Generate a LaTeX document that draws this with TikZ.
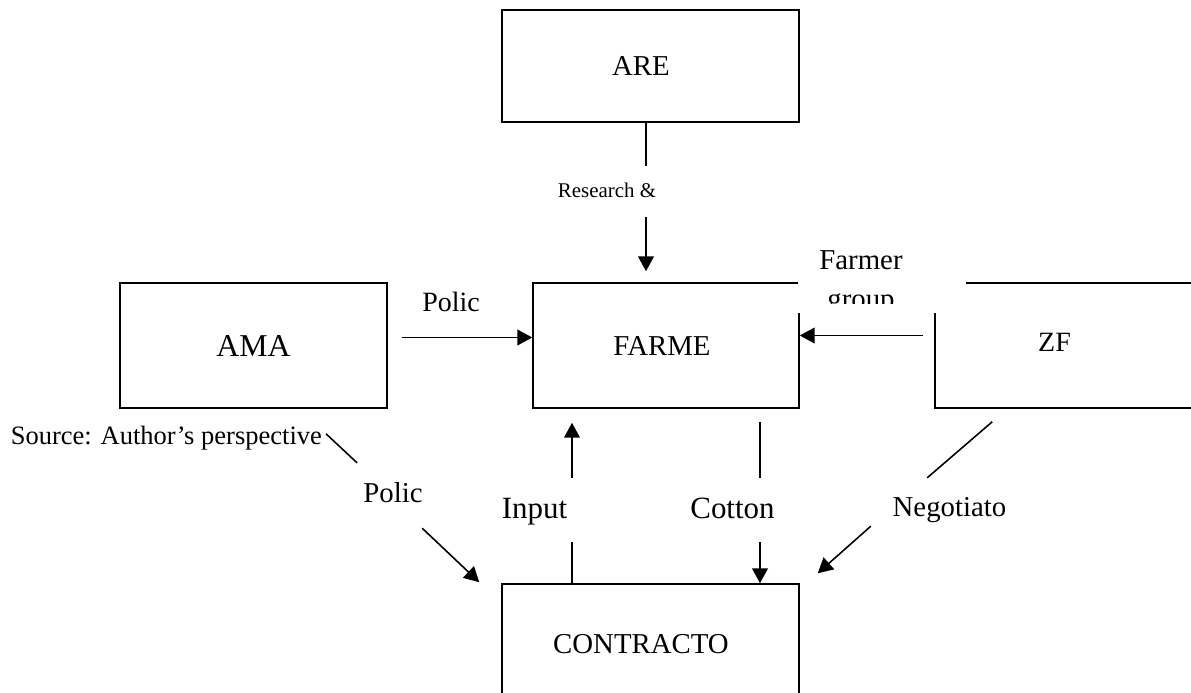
\documentclass[tikz,border=0pt]{standalone}
\usepackage{fontspec}
\setmainfont{Liberation Serif}
\usetikzlibrary{arrows.meta, positioning, calc}

\begin{document}
\begin{tikzpicture}[x=0.02cm, y=-0.02cm, line width=0.9pt,
    box/.style={draw, inner sep=0pt, font=\fontsize{16.4}{19}\selectfont},
    lbl/.style={anchor=base, inner sep=0pt, font=\fontsize{16.4}{19}\selectfont},
    arr/.style={-{Triangle[length=8.5pt, width=9pt]}},
]
    \useasboundingbox (0,0) rectangle (1191,693);
    \clip (0,0) rectangle (1191,693);

    % Actors
    \node[box, minimum width=5.94cm, minimum height=2.24cm] (are) at (650.5,66) {\hspace*{-0.38cm}ARE};
    \node[box, minimum width=5.34cm, minimum height=2.5cm,
        font=\fontsize{18.1}{21}\selectfont] (ama) at (253.5,345.5) {AMA};
    \node[box, minimum width=5.32cm, minimum height=2.5cm] (farmer) at (666,345.5) {\hspace*{-0.16cm}FARME};
    \node[box, minimum width=6.5cm, minimum height=2.5cm] (zf) at (1097.5,345.5) {};
    \node[lbl, font=\fontsize{15.9}{19}\selectfont] (zftext) at (1054.5,351) {ZF};
    \node[box, minimum width=5.94cm, minimum height=2.4cm] (contr) at (650.5,644) {\hspace*{-0.38cm}CONTRACTO};

    % Text box over the corner between FARME and ZF
    \fill[white] (798,240) rectangle (966,313);
    \node[lbl] (fgroup) at (861,269) {Farmer};
    \begin{scope}
        \clip (798,240) rectangle (966,303);
        \node[lbl] (fgroup2) at (861,308) {group};
    \end{scope}

    % Research & extension
    \coordinate (ra) at (646,0);
    \draw (are.south -| ra) -- ++(0,43);
    \node[lbl, font=\fontsize{11.9}{14}\selectfont] (research) at (607,197) {Research \&};
    \draw[arr] ($(farmer.north -| ra)+(0,-65)$) -- ($(farmer.north -| ra)+(0,-11)$);

    % Policy and farmer group arrows into FARME
    \node[lbl, font=\fontsize{15.9}{19}\selectfont] (polica) at (451,311) {Polic};
    \draw[arr] ($(ama.east)+(14,-8)$) -- ($(farmer.west)+(0,-8)$);
    \draw[arr] ($(zf.west)+(-11,-10)$) -- ($(farmer.east)+(0,-10)$);

    \node[lbl, anchor=base west, font=\fontsize{15.1}{18}\selectfont] (source) at (10,444)
        {Source: Author’s perspective};

    % Policy to CONTRACTO
    \draw ($(ama.south)+(72.5,25)$) -- ++(31,29);
    \node[lbl] (policb) at (393,502) {Polic};
    \draw[arr] ($(contr.north west)+(-79,-55)$) -- ($(contr.north west)+(-22,-1)$);

    % Inputs
    \coordinate (ix) at (572,0);
    \draw (contr.north -| ix) -- ++(0,-41);
    \node[lbl, font=\fontsize{17.6}{21}\selectfont] (input) at (534.5,518) {Input};
    \draw[arr] ($(farmer.south -| ix)+(0,69)$) -- ($(farmer.south -| ix)+(0,14)$);

    % Cotton
    \coordinate (cx) at (760,0);
    \draw ($(farmer.south -| cx)+(0,13)$) -- ++(0,56);
    \node[lbl, font=\fontsize{17.6}{21}\selectfont] (cotton) at (732.5,518) {Cotton};
    \draw[arr] ($(contr.north -| cx)+(0,-41)$) -- (contr.north -| cx);

    % Negotiation
    \draw ($(zf.south west)+(58,13)$) -- ++(-65,56);
    \node[lbl] (nego) at (949.5,516) {Negotiato};
    \draw[arr] ($(contr.north east)+(71,-57)$) -- ($(contr.north east)+(18,-10)$);
\end{tikzpicture}
\end{document}
